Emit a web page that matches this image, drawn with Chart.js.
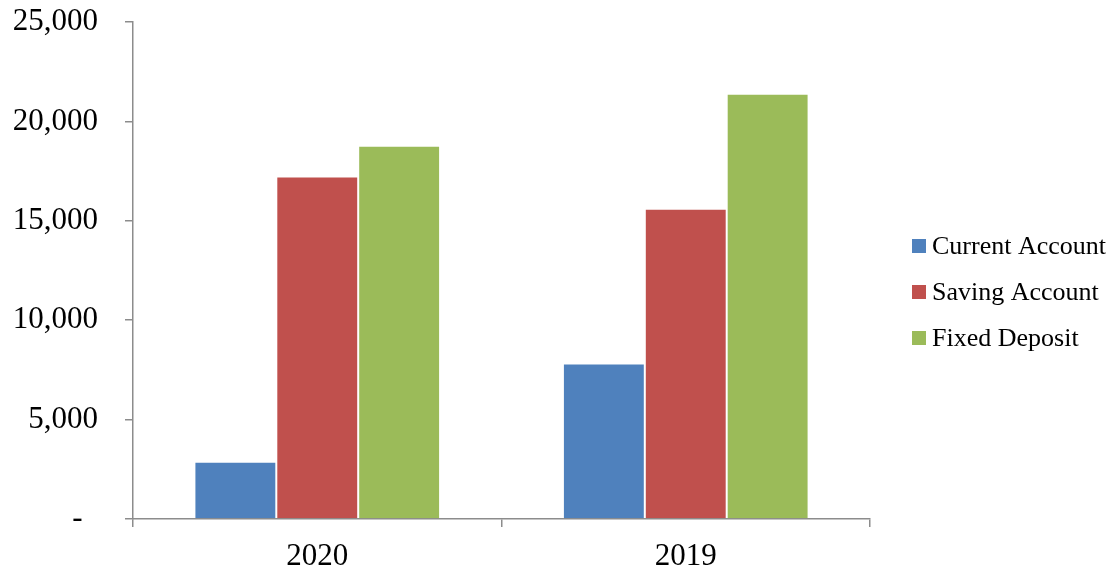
<!DOCTYPE html>
<html>
<head>
<meta charset="utf-8">
<title>Deposits 2020 vs 2019</title>
<script src="https://cdn.jsdelivr.net/npm/chart.js@4/dist/chart.umd.min.js"></script>
<style>
  html, body { margin: 0; padding: 0; background: #ffffff; }
  #wrap { width: 1116px; height: 571px; position: relative; }
</style>
</head>
<body>
<div id="wrap"><canvas id="myChart"></canvas></div>
<script>
// years on the x axis
var years = ['2020', '2019'];

// deposit amounts per account type
var currentAccount = [2880, 7820];
var savingAccount = [17230, 15600];
var fixedDeposit = [18770, 21390];

var serif = "'Liberation Serif', 'Times New Roman', serif";
var axisGray = '#8c8c8c';

// legend drawn by hand on the right so the plot keeps its width
var sideLegend = {
    id: 'sideLegend',
    afterDraw: function (chart) {
        var ctx = chart.ctx;
        var area = chart.chartArea;
        var x = area.right + 42;
        var y = 246;
        ctx.save();
        ctx.font = '26px ' + serif;
        ctx.textBaseline = 'middle';
        ctx.textAlign = 'left';
        chart.data.datasets.forEach(function (ds, i) {
            var cy = y + i * 46;
            ctx.fillStyle = ds.backgroundColor;
            ctx.fillRect(x, cy - 7, 14, 14);
            ctx.fillStyle = '#000000';
            ctx.fillText(ds.label, x + 20, cy + 1);
        });
        ctx.restore();
    }
};

var chartdata = {
    labels: years,
    datasets: [
        {
            label: 'Current Account',
            backgroundColor: '#4f81bd',
            borderColor: 'rgba(255,255,255,0.45)',
            borderWidth: 1,
            data: currentAccount
        },
        {
            label: 'Saving Account',
            backgroundColor: '#c0504d',
            borderColor: 'rgba(255,255,255,0.45)',
            borderWidth: 1,
            data: savingAccount
        },
        {
            label: 'Fixed Deposit',
            backgroundColor: '#9bbb59',
            borderColor: 'rgba(255,255,255,0.45)',
            borderWidth: 1,
            data: fixedDeposit
        }
    ]
};

new Chart(document.getElementById('myChart'), {
    type: 'bar',
    data: chartdata,
    plugins: [sideLegend],
    options: {
        responsive: true,
        maintainAspectRatio: false,
        animation: false,
        layout: {
            padding: { left: 0, right: 246, top: 22, bottom: 0 }
        },
        plugins: {
            legend: { display: false },
            tooltip: { enabled: false }
        },
        datasets: {
            bar: { categoryPercentage: 0.6667, barPercentage: 1.0 }
        },
        scales: {
            x: {
                grid: {
                    display: true,
                    drawOnChartArea: false,
                    drawTicks: true,
                    tickLength: 8,
                    color: axisGray,
                    lineWidth: 1.5,
                    offset: true
                },
                border: { display: true, color: axisGray, width: 1.5 },
                ticks: {
                    color: '#000000',
                    padding: 13,
                    font: { family: serif, size: 31, lineHeight: 1.1 }
                },
                afterFit: function (scale) { scale.height = 52; }
            },
            y: {
                min: 0,
                max: 25000,
                grid: {
                    display: true,
                    drawOnChartArea: false,
                    drawTicks: true,
                    tickLength: 8,
                    color: axisGray,
                    lineWidth: 1.5
                },
                border: { display: true, color: axisGray, width: 1.5 },
                ticks: {
                    stepSize: 5000,
                    color: '#000000',
                    padding: 27,
                    font: { family: serif, size: 31 },
                    callback: function (value) {
                        // zero shows as a dash, like accounting format
                        if (value === 0) return '-\u2007';
                        return value.toLocaleString('en-US');
                    }
                },
                afterFit: function (scale) {
                    scale.width = 133;
                    // top label may sit in the layout padding
                    scale.paddingTop = 0;
                    scale.paddingBottom = 0;
                }
            }
        }
    }
});
</script>
</body>
</html>
